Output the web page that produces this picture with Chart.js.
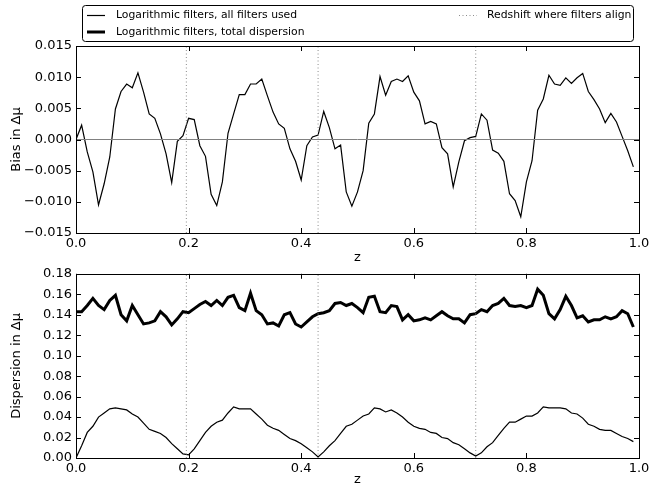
<!DOCTYPE html>
<html>
<head>
<meta charset="utf-8">
<script src="https://cdn.jsdelivr.net/npm/chart.js@4.4.1/dist/chart.umd.min.js"></script>
<style>
  body { margin: 0; background: #fff; }
  #wrap { position: relative; width: 663px; height: 487px; }
  #top { position: absolute; left: 0; top: 0; }
  #bottom { position: absolute; left: 0; top: 262px; }
</style>
</head>
<body>
<div id="wrap">
  <canvas id="top" width="663" height="265"></canvas>
  <canvas id="bottom" width="663" height="225"></canvas>
</div>
<script>
// redshift grid
const zValues = [
    0.00, 0.01, 0.02, 0.03, 0.04, 0.05, 0.06, 0.07, 0.08, 0.09,
    0.10, 0.11, 0.12, 0.13, 0.14, 0.15, 0.16, 0.17, 0.18, 0.19,
    0.20, 0.21, 0.22, 0.23, 0.24, 0.25, 0.26, 0.27, 0.28, 0.29,
    0.30, 0.31, 0.32, 0.33, 0.34, 0.35, 0.36, 0.37, 0.38, 0.39,
    0.40, 0.41, 0.42, 0.43, 0.44, 0.45, 0.46, 0.47, 0.48, 0.49,
    0.50, 0.51, 0.52, 0.53, 0.54, 0.55, 0.56, 0.57, 0.58, 0.59,
    0.60, 0.61, 0.62, 0.63, 0.64, 0.65, 0.66, 0.67, 0.68, 0.69,
    0.70, 0.71, 0.72, 0.73, 0.74, 0.75, 0.76, 0.77, 0.78, 0.79,
    0.80, 0.81, 0.82, 0.83, 0.84, 0.85, 0.86, 0.87, 0.88, 0.89,
    0.90, 0.91, 0.92, 0.93, 0.94, 0.95, 0.96, 0.97, 0.98, 0.99
];

const biasAllFilters = [
    0.0000, 0.0023, -0.0020, -0.0052, -0.0105, -0.0071, -0.0028, 0.0049, 0.0077, 0.0089,
    0.0083, 0.0107, 0.0076, 0.0041, 0.0034, 0.0009, -0.0023, -0.0069, -0.0003, 0.0006,
    0.0034, 0.0032, -0.0010, -0.0027, -0.0088, -0.0106, -0.0068, 0.0010, 0.0041, 0.0072,
    0.0072, 0.0089, 0.0089, 0.0097, 0.0070, 0.0044, 0.0025, 0.0018, -0.0015, -0.0035,
    -0.0065, -0.0010, 0.0004, 0.0007, 0.0045, 0.0019, -0.0015, -0.0009, -0.0084, -0.0107,
    -0.0084, -0.0050, 0.0026, 0.0041, 0.0101, 0.0071, 0.0093, 0.0097, 0.0093, 0.0102,
    0.0076, 0.0062, 0.0025, 0.0029, 0.0025, -0.0013, -0.0023, -0.0076, -0.0036, -0.0002,
    0.0003, 0.0005, 0.0041, 0.0031, -0.0017, -0.0022, -0.0035, -0.0087, -0.0098, -0.0124,
    -0.0068, -0.0034, 0.0047, 0.0065, 0.0103, 0.0089, 0.0087, 0.0099, 0.0090, 0.0099,
    0.0106, 0.0077, 0.0064, 0.0049, 0.0027, 0.0042, 0.0028, 0.0005, -0.0018, -0.0044
];

const dispTotal = [
    0.143, 0.143, 0.149, 0.156, 0.149, 0.145, 0.154, 0.159, 0.140, 0.134,
    0.149, 0.140, 0.131, 0.132, 0.134, 0.143, 0.138, 0.130, 0.136, 0.143,
    0.142, 0.146, 0.150, 0.153, 0.149, 0.154, 0.149, 0.157, 0.159, 0.147,
    0.144, 0.161, 0.144, 0.140, 0.131, 0.132, 0.129, 0.140, 0.142, 0.131,
    0.128, 0.133, 0.138, 0.141, 0.142, 0.144, 0.151, 0.152, 0.149, 0.151,
    0.147, 0.142, 0.157, 0.158, 0.143, 0.142, 0.149, 0.148, 0.135, 0.140,
    0.134, 0.135, 0.137, 0.135, 0.139, 0.143, 0.139, 0.136, 0.136, 0.132,
    0.140, 0.141, 0.145, 0.143, 0.149, 0.151, 0.156, 0.149, 0.148, 0.149,
    0.147, 0.149, 0.165, 0.159, 0.141, 0.136, 0.145, 0.158, 0.149, 0.137,
    0.139, 0.133, 0.135, 0.135, 0.138, 0.136, 0.138, 0.144, 0.141, 0.128
];

const dispAllFilters = [
    0.000, 0.012, 0.025, 0.031, 0.040, 0.044, 0.048, 0.049, 0.048, 0.047,
    0.043, 0.040, 0.034, 0.028, 0.026, 0.024, 0.020, 0.014, 0.009, 0.004,
    0.003, 0.009, 0.017, 0.025, 0.031, 0.035, 0.037, 0.044, 0.050, 0.048,
    0.048, 0.048, 0.043, 0.038, 0.032, 0.029, 0.027, 0.023, 0.019, 0.017,
    0.014, 0.010, 0.006, 0.001, 0.006, 0.012, 0.017, 0.024, 0.031, 0.033,
    0.037, 0.041, 0.043, 0.049, 0.048, 0.045, 0.047, 0.044, 0.040, 0.035,
    0.031, 0.029, 0.028, 0.025, 0.024, 0.020, 0.019, 0.015, 0.013, 0.009,
    0.005, 0.002, 0.005, 0.011, 0.015, 0.022, 0.029, 0.035, 0.035, 0.038,
    0.041, 0.041, 0.044, 0.050, 0.049, 0.049, 0.049, 0.048, 0.044, 0.043,
    0.039, 0.033, 0.031, 0.028, 0.027, 0.027, 0.024, 0.021, 0.019, 0.016
];

// redshifts where the filters align
const alignZ = [0.196, 0.43, 0.71];

const legendLabels = [
    'Logarithmic filters, all filters used',
    'Logarithmic filters, total dispersion',
    'Redshift where filters align'
];

const FONT = "'DejaVu Sans', sans-serif";

function toPoints(ys) {
    return zValues.map((z, i) => ({ x: z, y: ys[i] }));
}

function alignDatasets(lo, hi) {
    return alignZ.map(z => ({
        data: [{ x: z, y: lo }, { x: z, y: hi }],
        borderColor: '#8c8c8c',
        borderWidth: 1,
        borderDash: [1, 2.5],
        pointRadius: 0
    }));
}

function fmtTick(dec) {
    return function(v) {
        if (Math.abs(v) < 1e-9) v = 0;
        return v.toFixed(dec).replace('-', '\u2212');
    };
}

// matplotlib style: frame all round, ticks pointing inwards on every side
const framePlugin = {
    id: 'frame',
    afterDatasetsDraw(chart) {
        const ctx = chart.ctx;
        const a = chart.chartArea;
        const len = 5;
        ctx.save();
        ctx.strokeStyle = '#000';
        ctx.lineWidth = 1;
        ctx.beginPath();
        chart.scales.x.ticks.forEach(t => {
            const px = Math.round(chart.scales.x.getPixelForValue(t.value)) + 0.5;
            ctx.moveTo(px, a.bottom); ctx.lineTo(px, a.bottom - len);
            ctx.moveTo(px, a.top); ctx.lineTo(px, a.top + len);
        });
        chart.scales.y.ticks.forEach(t => {
            const py = Math.round(chart.scales.y.getPixelForValue(t.value)) + 0.5;
            ctx.moveTo(a.left, py); ctx.lineTo(a.left + len, py);
            ctx.moveTo(a.right, py); ctx.lineTo(a.right - len, py);
        });
        ctx.stroke();
        ctx.strokeRect(Math.round(a.left) + 0.5, Math.round(a.top) + 0.5,
                       Math.round(a.right - a.left), Math.round(a.bottom - a.top));
        ctx.restore();
    }
};

const legendPlugin = {
    id: 'boxLegend',
    afterDraw(chart) {
        const ctx = chart.ctx;
        ctx.save();
        // box
        const bx = 82.5, by = 5.5, bw = 551, bh = 36, r = 3;
        ctx.beginPath();
        ctx.moveTo(bx + r, by);
        ctx.arcTo(bx + bw, by, bx + bw, by + bh, r);
        ctx.arcTo(bx + bw, by + bh, bx, by + bh, r);
        ctx.arcTo(bx, by + bh, bx, by, r);
        ctx.arcTo(bx, by, bx + bw, by, r);
        ctx.closePath();
        ctx.fillStyle = '#fff';
        ctx.fill();
        ctx.strokeStyle = '#000';
        ctx.lineWidth = 1;
        ctx.stroke();

        ctx.font = '10.8px ' + FONT;
        ctx.fillStyle = '#000';
        ctx.textBaseline = 'middle';

        const rows = [
            { x: 87, tx: 116, y: 15.5, w: 1.2, dash: [], col: '#000', label: legendLabels[0] },
            { x: 87, tx: 116, y: 32, w: 3, dash: [], col: '#000', label: legendLabels[1] },
            { x: 459, tx: 487, y: 15.5, w: 1, dash: [1, 2.5], col: '#8c8c8c', label: legendLabels[2] }
        ];
        rows.forEach(it => {
            ctx.beginPath();
            ctx.setLineDash(it.dash);
            ctx.strokeStyle = it.col;
            ctx.lineWidth = it.w;
            ctx.moveTo(it.x, it.y);
            ctx.lineTo(it.x + 18, it.y);
            ctx.stroke();
            ctx.setLineDash([]);
            ctx.fillText(it.label, it.tx, it.y);
        });
        ctx.restore();
    }
};

function baseOptions(yMin, yMax, yStep, yDec, yTitle, top, xHeight) {
    return {
        responsive: false,
        animation: false,
        events: [],
        layout: { padding: { left: 0, right: 24, top: top, bottom: 0 } },
        plugins: { legend: { display: false }, tooltip: { enabled: false } },
        elements: { line: { tension: 0 }, point: { radius: 0 } },
        scales: {
            x: {
                type: 'linear',
                min: 0, max: 1,
                grid: { display: false, drawTicks: false },
                border: { display: false },
                afterFit: s => { s.height = xHeight; },
                ticks: {
                    stepSize: 0.2,
                    padding: 3,
                    color: '#000',
                    font: { family: FONT, size: 13 },
                    maxRotation: 0,
                    callback: fmtTick(1)
                },
                title: {
                    display: true,
                    text: 'z',
                    color: '#000',
                    padding: { top: 0, bottom: 0 },
                    font: { family: FONT, size: 13 }
                }
            },
            y: {
                min: yMin, max: yMax,
                grid: { display: false, drawTicks: false },
                border: { display: false },
                afterFit: s => { s.width = 76; },
                ticks: {
                    stepSize: yStep,
                    padding: 4,
                    color: '#000',
                    font: { family: FONT, size: 13 },
                    callback: fmtTick(yDec)
                },
                title: {
                    display: true,
                    text: yTitle,
                    color: '#000',
                    padding: { top: 9, bottom: 0 },
                    font: { family: FONT, size: 13 }
                }
            }
        }
    };
}

new Chart(document.getElementById('top').getContext('2d'), {
    type: 'line',
    data: {
        datasets: [
            {
                data: [{ x: 0, y: 0 }, { x: 1, y: 0 }],
                borderColor: '#808080',
                borderWidth: 1,
                pointRadius: 0
            },
            ...alignDatasets(-0.015, 0.015),
            {
                label: legendLabels[0],
                data: toPoints(biasAllFilters),
                borderColor: '#000',
                borderWidth: 1.2,
                pointRadius: 0
            }
        ]
    },
    options: baseOptions(-0.015, 0.015, 0.005, 3, 'Bias in \u0394\u03bc', 46, 32),
    plugins: [framePlugin, legendPlugin]
});

new Chart(document.getElementById('bottom').getContext('2d'), {
    type: 'line',
    data: {
        datasets: [
            ...alignDatasets(0, 0.18),
            {
                label: legendLabels[1],
                data: toPoints(dispTotal),
                borderColor: '#000',
                borderWidth: 3,
                pointRadius: 0
            },
            {
                label: legendLabels[0],
                data: toPoints(dispAllFilters),
                borderColor: '#000',
                borderWidth: 1.2,
                pointRadius: 0
            }
        ]
    },
    options: baseOptions(0, 0.18, 0.02, 2, 'Dispersion in \u0394\u03bc', 8, 29),
    plugins: [framePlugin]
});
</script>
</body>
</html>
